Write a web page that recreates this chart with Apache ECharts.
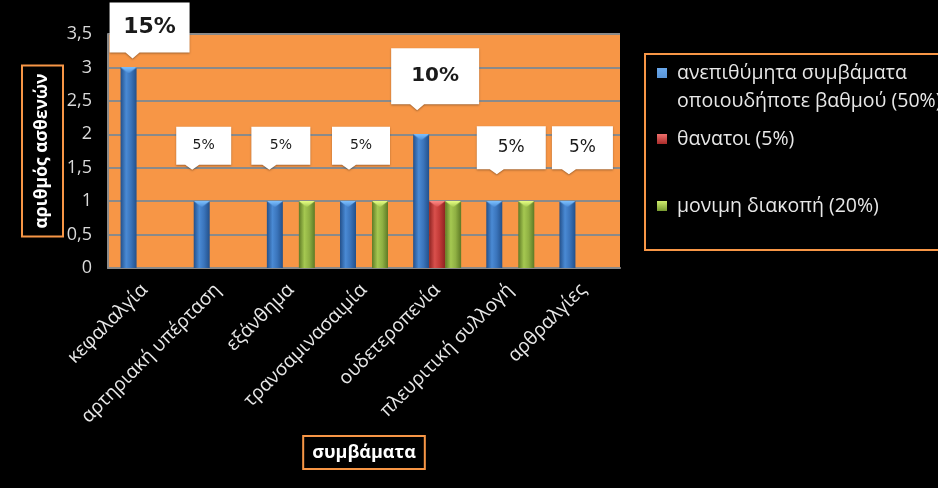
<!DOCTYPE html>
<html>
<head>
<meta charset="utf-8">
<script src="https://cdn.jsdelivr.net/npm/echarts@6/dist/echarts.min.js"></script>
<style>
  html, body { margin: 0; padding: 0; background: #000; }
  #chart { width: 938px; height: 488px; }
</style>
</head>
<body>
<div id="chart"></div>
<script>
// Adverse events by type: number of patients per category
const categories = [
  'κεφαλαλγία',
  'αρτηριακή υπέρταση',
  'εξάνθημα',
  'τρανσαμινασαιμία',
  'ουδετεροπενία',
  'πλευριτική συλλογή',
  'αρθραλγίες'
];
const seriesNames = [
  'ανεπιθύμητα συμβάματα\nοποιουδήποτε βαθμού (50%)',
  'θανατοι (5%)',
  'μονιμη διακοπή (20%)'
];
const anyGrade = [3, 1, 1, 1, 2, 1, 1];
const deaths = [0, 0, 0, 0, 1, 0, 0];
const discontinued = [0, 0, 1, 1, 1, 1, 0];
const totalPatients = 20;
const yTicks = [0, 0.5, 1, 1.5, 2, 2.5, 3, 3.5];

// Callout box look for each category: box width/height, tail x, tail length, nudge, font size
const calloutStyle = [
  { w: 80, h: 50, tx: 23, t: 6, dx: 5, dy: -37, fs: 22, fw: 'bold' },
  { w: 55, h: 38, tx: 16, t: 5, dx: -14, dy: -53, fs: 14, fw: 'normal' },
  { w: 59, h: 38, tx: 18, t: 5, dx: -10, dy: -53, fs: 14, fw: 'normal' },
  { w: 58, h: 38, tx: 17, t: 5, dx: -3, dy: -53, fs: 14, fw: 'normal' },
  { w: 88, h: 56, tx: 26, t: 6, dx: -2, dy: -55, fs: 20, fw: 'bold' },
  { w: 69, h: 43, tx: 20, t: 5, dx: 1, dy: -51, fs: 17, fw: 'normal' },
  { w: 61, h: 43, tx: 17, t: 5, dx: -1, dy: -51, fs: 17, fw: 'normal' }
];

const ORANGE = '#F79646';
const TEXT = '#e8e8e8';
const FONT = '"Open Sans", "Noto Sans", sans-serif';

function barGradient(dark, mid, light) {
  return new echarts.graphic.LinearGradient(0, 0, 1, 0, [
    { offset: 0, color: dark },
    { offset: 0.35, color: light },
    { offset: 0.65, color: mid },
    { offset: 1, color: dark }
  ]);
}
function swatchGradient(light, dark) {
  return new echarts.graphic.LinearGradient(0, 0, 0, 1, [
    { offset: 0, color: light },
    { offset: 1, color: dark }
  ]);
}

// Small bevel triangle painted on top of each bar
function bevelImage(light, edge) {
  const c = document.createElement('canvas');
  c.width = 16; c.height = 6;
  const g = c.getContext('2d');
  const grad = g.createLinearGradient(0, 0, 0, 6);
  grad.addColorStop(0, light);
  grad.addColorStop(1, edge);
  g.fillStyle = grad;
  g.beginPath();
  g.moveTo(0, 0); g.lineTo(16, 0); g.lineTo(8, 6); g.closePath();
  g.fill();
  return c;
}

function barSeries(name, data, fill, bevelLight, bevelEdge) {
  return {
    name: name, type: 'bar', data: data,
    barWidth: 16, barGap: '0%',
    itemStyle: { color: fill },
    label: {
      show: true, position: 'insideTop', distance: 0,
      formatter: function (p) { return p.value > 0 ? '{t|}' : ''; },
      rich: { t: { width: 16, height: 6, backgroundColor: { image: bevelImage(bevelLight, bevelEdge) } } }
    },
    emphasis: { disabled: true }
  };
}

function calloutPath(s) {
  const H = s.h, W = s.w;
  return 'path://M0,0 L' + W + ',0 L' + W + ',' + H + ' L' + (s.tx + 7) + ',' + H +
    ' L' + s.tx + ',' + (H + s.t) + ' L' + (s.tx - 7) + ',' + H + ' L0,' + H + ' Z';
}

const calloutData = anyGrade.map(function (v, i) {
  const s = calloutStyle[i];
  return {
    value: v,
    symbol: calloutPath(s),
    symbolSize: [s.w, s.h + s.t],
    symbolOffset: [s.dx, s.dy],
    label: {
      offset: [0, -s.t / 2],
      fontSize: s.fs,
      fontWeight: s.fw
    }
  };
});

function legendIcon(h) {
  // square swatch at the top-left, bbox stretched to 15 x h
  return 'path://M0,0 L10,0 L10,10 L0,10 Z M14.99,' + (h - 0.01) + ' L15,' + (h - 0.01) + ' L15,' + h + ' L14.99,' + h + ' Z';
}
const legendText = { color: TEXT, fontSize: 19.5, lineHeight: 28, fontFamily: FONT };

const chart = echarts.init(document.getElementById('chart'));
chart.setOption({
  backgroundColor: '#000',
  animation: false,
  grid: {
    left: 108, right: 318, top: 34, bottom: 220,
    show: true, backgroundColor: ORANGE, borderWidth: 0
  },
  legend: [
    {
      data: [{ name: seriesNames[0], itemStyle: { color: swatchGradient('#6aa8ec', '#2a5f9e') } }],
      left: 657, top: 59, padding: 0,
      icon: legendIcon(38), itemWidth: 15, itemHeight: 38,
      textStyle: legendText
    },
    {
      data: [{ name: seriesNames[1], itemStyle: { color: swatchGradient('#ef6f6c', '#a92c2a') } }],
      left: 657, top: 125, padding: 0,
      icon: legendIcon(10), itemWidth: 15, itemHeight: 10,
      textStyle: legendText
    },
    {
      data: [{ name: seriesNames[2], itemStyle: { color: swatchGradient('#cfec6e', '#779a30') } }],
      left: 657, top: 192, padding: 0,
      icon: legendIcon(10), itemWidth: 15, itemHeight: 10,
      textStyle: legendText
    }
  ],
  graphic: [{
    type: 'rect',
    shape: { x: 645, y: 54, width: 320, height: 196 },
    style: { fill: 'none', stroke: ORANGE, lineWidth: 2 }
  }],
  xAxis: {
    type: 'category',
    data: categories,
    name: 'συμβάματα',
    nameLocation: 'middle',
    nameGap: 168,
    nameMoveOverlap: false,
    nameTextStyle: {
      color: '#fff', fontSize: 18, fontWeight: 'bold', fontFamily: FONT,
      borderColor: ORANGE, borderWidth: 2, padding: [8, 9, 7, 9]
    },
    axisLine: { lineStyle: { color: '#8a8a8a', width: 2 } },
    axisTick: { show: false },
    axisLabel: {
      rotate: 45, color: TEXT, fontSize: 19, fontFamily: FONT, margin: 19, interval: 0
    }
  },
  yAxis: {
    type: 'value',
    min: yTicks[0],
    max: yTicks[yTicks.length - 1],
    interval: yTicks[1] - yTicks[0],
    name: 'αριθμός ασθενών',
    nameLocation: 'middle',
    nameRotate: 90,
    nameGap: 45,
    nameMoveOverlap: false,
    nameTextStyle: {
      color: '#fff', fontSize: 17.5, fontWeight: 'bold', fontFamily: FONT,
      borderColor: ORANGE, borderWidth: 2, padding: [11.5, 8]
    },
    axisLine: { show: true, lineStyle: { color: '#8a8a8a', width: 2 } },
    axisTick: { show: false },
    axisLabel: {
      color: '#d9d9d9', fontSize: 18, fontFamily: FONT, margin: 16,
      formatter: function (v) { return String(v).replace('.', ','); }
    },
    splitLine: { lineStyle: { color: '#8a8a8a', width: 2 } }
  },
  series: [
    barSeries(seriesNames[0], anyGrade, barGradient('#23508a', '#3a74bb', '#4a8ad4'), '#7cc0ff', '#4a8ad4'),
    barSeries(seriesNames[1], deaths, barGradient('#8e2422', '#c23a37', '#d9504c'), '#ff8a86', '#d9504c'),
    barSeries(seriesNames[2], discontinued, barGradient('#5e7a25', '#8fb043', '#a5c851'), '#e6ff84', '#a5c851'),
    {
      name: 'callouts', type: 'scatter', data: calloutData, z: 5,
      itemStyle: {
        color: '#ffffff', opacity: 1,
        shadowColor: 'rgba(0,0,0,0.35)', shadowBlur: 2, shadowOffsetY: 1
      },
      label: {
        show: true, position: 'inside', color: '#1a1a1a',
        fontFamily: '"DejaVu Sans", sans-serif',
        formatter: function (p) {
          return Math.round(p.value / totalPatients * 100) + '%';
        }
      },
      emphasis: { disabled: true }
    }
  ]
});
</script>
</body>
</html>
